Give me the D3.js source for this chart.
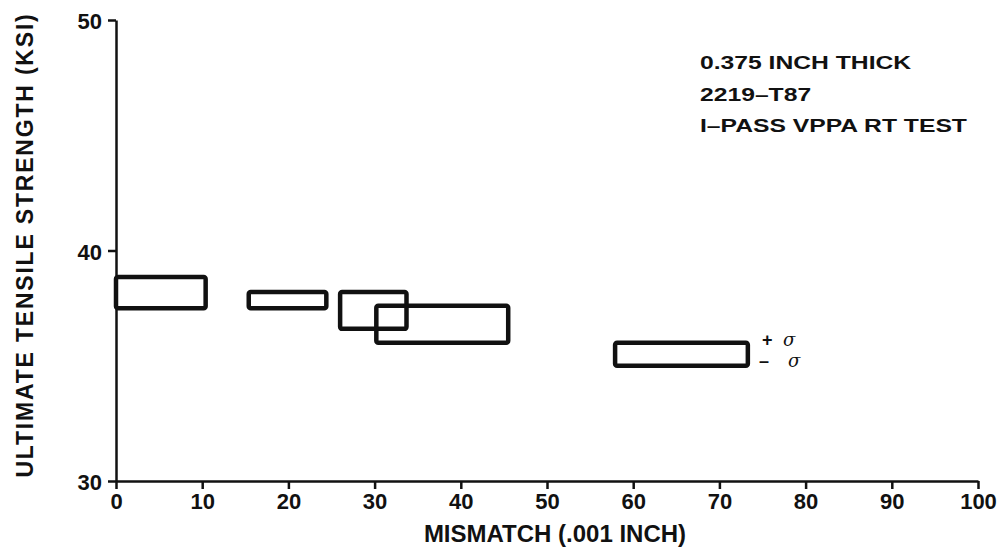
<!DOCTYPE html>
<html><head><meta charset="utf-8">
<script src="https://cdn.jsdelivr.net/npm/d3@7"></script>
<style>
body{margin:0;background:#fff;}
text{font-family:"Liberation Sans",Arial,sans-serif;font-weight:bold;fill:#111;}
</style></head><body>
<svg id="c" width="1000" height="551"></svg>
<script>
const xTicks=[0,10,20,30,40,50,60,70,80,90,100];
const yTicks=[30,40,50];
const boxX0=[0,15.4,26,30.2,57.9];
const boxX1=[10.4,24.4,33.7,45.5,73.3];
const boxHi=[38.85,38.2,38.2,37.6,36.0];
const boxLo=[37.5,37.5,36.6,36.0,35.0];
const notes=["0.375 INCH THICK","2219\u2013T87","I\u2013PASS VPPA RT TEST"];

const svg=d3.select("#c");
const x=d3.scaleLinear().domain([0,100]).range([116,978]);
const y=d3.scaleLinear().domain([30,50]).range([481,20]);

// boxes
svg.selectAll("rect.b").data(boxX0).join("rect").attr("class","b")
 .attr("x",(d,i)=>x(d)).attr("y",(d,i)=>y(boxHi[i]))
 .attr("width",(d,i)=>x(boxX1[i])-x(d)).attr("height",(d,i)=>y(boxLo[i])-y(boxHi[i]))
 .attr("rx",2).attr("fill","none").attr("stroke","#111").attr("stroke-width",4.5);

// axes
const xa=svg.append("g").attr("transform",`translate(0,${y(30)})`)
 .call(d3.axisBottom(x).tickValues(xTicks).tickSize(8).tickPadding(4).tickSizeOuter(0));
const ya=svg.append("g").attr("transform",`translate(${x(0)},0)`)
 .call(d3.axisLeft(y).tickValues(yTicks).tickSize(8).tickPadding(6).tickSizeOuter(0));
[xa,ya].forEach(a=>{a.select(".domain").attr("stroke","#111").attr("stroke-width",2.5);
 a.selectAll(".tick line").attr("stroke","#111").attr("stroke-width",2.5);
 a.selectAll(".tick text").style("font-size","22px").attr("fill","#111");});
ya.selectAll(".tick text").attr("dy","0.4em");

svg.append("text").attr("x",555).attr("y",542).attr("text-anchor","middle")
 .style("font-size","24px").text("MISMATCH (.001 INCH)");
svg.append("text").attr("transform",`translate(33,245) rotate(-90)`)
 .attr("text-anchor","middle").style("font-size","23px").style("letter-spacing","1.8px")
 .text("ULTIMATE TENSILE STRENGTH (KSI)");

svg.selectAll("text.n").data(notes).join("text").attr("class","n")
 .attr("transform",(d,i)=>`translate(700,${69+i*31.5}) scale(1.3,1)`)
 .style("font-size","19px").text(d=>d);

const sig=(t,xx,yy,serif)=>svg.append("text").attr("x",xx).attr("y",yy)
 .style("font-size",serif?"18px":"18px").style("font-weight",serif?"normal":"bold")
 .style("font-style",serif?"italic":"normal")
 .style("font-family",serif?"'DejaVu Serif',serif":"'Liberation Sans',Arial,sans-serif").text(t);
sig("+",762,346,false); sig("\u03c3",783,346,true);
sig("\u2013",759,367,false); sig("\u03c3",788,367,true);
</script></body></html>
